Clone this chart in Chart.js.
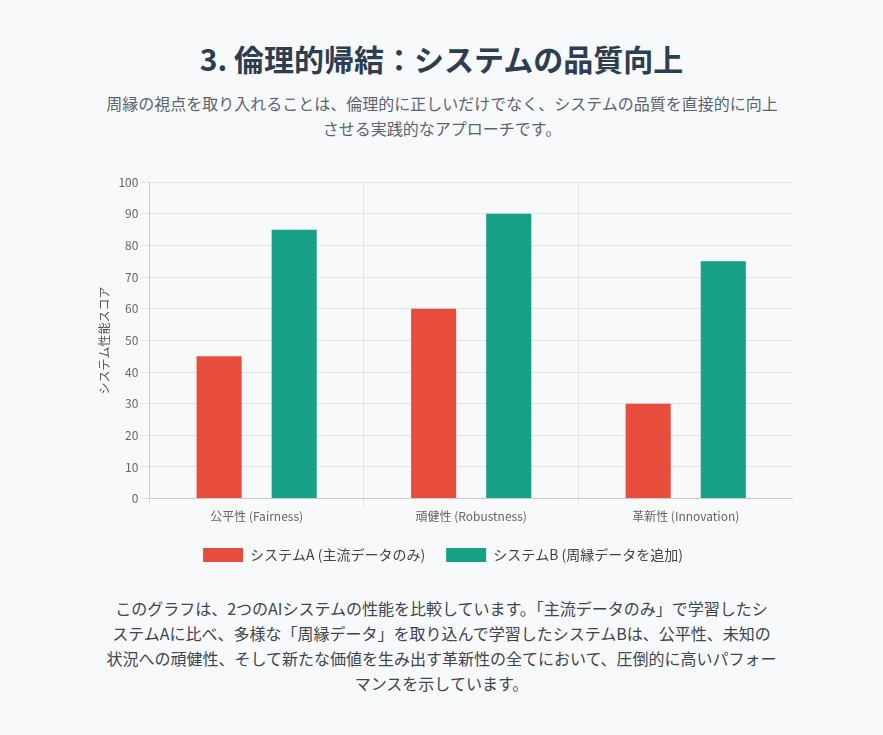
<!DOCTYPE html>
<html lang="ja">
<head>
<meta charset="utf-8">
<script src="https://cdn.jsdelivr.net/npm/chart.js@4/dist/chart.umd.min.js"></script>
<style>
  html, body { margin: 0; padding: 0; background: #f8f9fb; }
  body { font-family: "Noto Sans CJK JP", "Noto Sans", sans-serif; width: 883px; height: 735px; overflow: hidden; }
  h1 { margin: 0; position: absolute; top: 38px; left: 0; width: 883px; text-align: center; font-size: 30px; font-weight: 700; color: #2c3e50; line-height: 40px; }
  .sub { position: absolute; top: 91px; left: 101px; width: 682px; text-align: center; font-size: 16px; line-height: 25px; color: #5b6470; margin: 0; }
  .chartbox { position: absolute; top: 172px; left: 93px; width: 700px; height: 400px; }
  .desc { position: absolute; top: 596px; left: 81px; width: 721px; text-align: center; font-size: 16px; line-height: 25px; color: #3d4550; margin: 0; }
</style>
</head>
<body>
<h1>3. 倫理的帰結：システムの品質向上</h1>
<p class="sub">周縁の視点を取り入れることは、倫理的に正しいだけでなく、システムの品質を直接的に向上させる実践的なアプローチです。</p>
<div class="chartbox"><canvas id="c"></canvas></div>
<p class="desc">このグラフは、2つのAIシステムの性能を比較しています。「主流データのみ」で学習したシ<br>ステムAに比べ、多様な「周縁データ」を取り込んで学習したシステムBは、公平性、未知の<br>状況への頑健性、そして新たな価値を生み出す革新性の全てにおいて、圧倒的に高いパフォー<br>マンスを示しています。</p>
<script>
const categories = ["公平性 (Fairness)", "頑健性 (Robustness)", "革新性 (Innovation)"];
const systemA = [45, 60, 30];
const systemB = [85, 90, 75];
const seriesLabels = ["システムA (主流データのみ)", "システムB (周縁データを追加)"];
const yTitle = "システム性能スコア";

Chart.defaults.font.family = '"Noto Sans CJK JP", "Noto Sans", sans-serif';
Chart.defaults.color = '#666';

new Chart(document.getElementById('c'), {
  type: 'bar',
  data: {
    labels: categories,
    datasets: [
      { label: seriesLabels[0], data: systemA, backgroundColor: '#e74c3c', categoryPercentage: 0.7, barPercentage: 0.6 },
      { label: seriesLabels[1], data: systemB, backgroundColor: '#16a085', categoryPercentage: 0.7, barPercentage: 0.6 }
    ]
  },
  options: {
    responsive: true,
    maintainAspectRatio: false,
    animation: false,
    plugins: {
      legend: { position: 'bottom', labels: { font: { size: 14 }, color: '#444', boxWidth: 40, boxHeight: 14, padding: 21 } },
      tooltip: { enabled: false }
    },
    scales: {
      y: {
        min: 0, max: 100,
        ticks: { stepSize: 10, font: { size: 12 } },
        grid: { color: '#e3e3e3' },
        title: { display: true, text: yTitle, font: { size: 12 }, color: '#555' }
      },
      x: {
        ticks: { font: { size: 12 } },
        grid: { color: '#e3e3e3' }
      }
    }
  }
});
</script>
</body>
</html>
